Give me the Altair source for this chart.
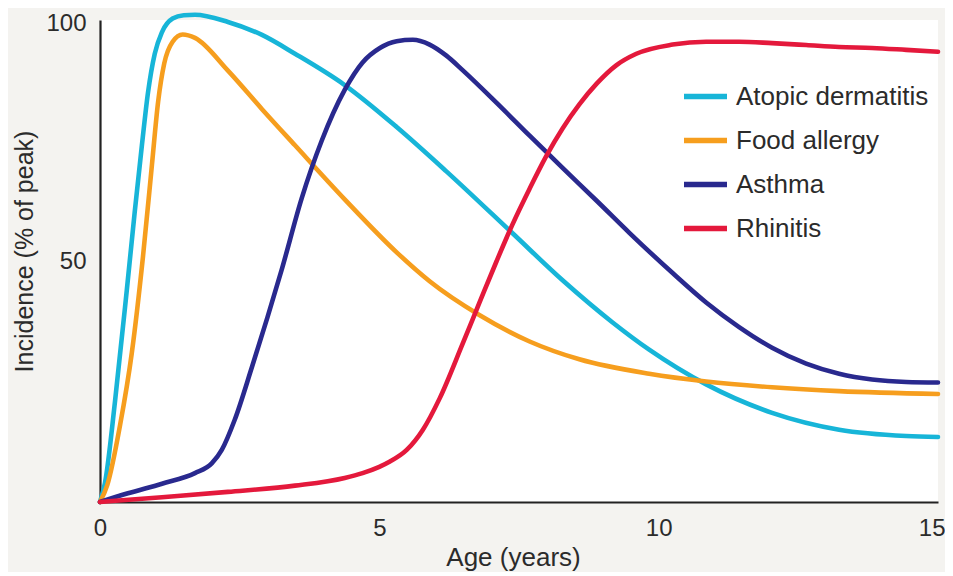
import altair as alt
import pandas as pd

series_names = ["Atopic dermatitis", "Food allergy", "Asthma", "Rhinitis"]
series_colors = ["#17b5d8", "#f69e1e", "#29298e", "#e4193c"]

ad_age = [0, 0.09, 0.27, 0.48, 0.62, 0.75, 0.86, 0.98, 1.11, 1.30, 1.50, 1.70, 2.29, 2.90,
          3.49, 4.38, 5.31, 6.20, 7.38, 8.28, 9.17, 9.83, 10.85, 12.03, 13.23, 14.43, 15.0]
ad_val = [0, 4.0, 21.0, 44.0, 60.0, 74.0, 85.0, 93.0, 97.5, 100.3, 101.0, 101.1, 99.6, 96.9,
          93.0, 86.5, 77.8, 68.6, 55.8, 46.0, 37.3, 31.6, 24.4, 18.5, 15.0, 13.7, 13.5]

fa_age = [0, 0.13, 0.36, 0.57, 0.77, 0.93, 1.04, 1.15, 1.30, 1.48, 1.70, 2.29, 2.90, 3.49,
          4.38, 5.31, 5.90, 6.79, 7.69, 8.58, 9.83, 10.85, 12.03, 13.23, 15.0]
fa_val = [0, 3.5, 16.0, 31.0, 51.0, 70.0, 83.0, 91.0, 95.5, 97.0, 96.3, 89.5, 81.5, 74.0,
          62.8, 51.8, 45.8, 38.8, 33.3, 29.6, 26.6, 25.0, 23.8, 23.0, 22.4]

as_age = [0, 0.50, 1.11, 1.70, 2.00, 2.18, 2.41, 2.72, 3.00, 3.25, 3.61, 3.97, 4.38, 4.70,
          5.01, 5.31, 5.60, 5.90, 6.20, 6.49, 7.10, 7.69, 8.28, 8.89, 9.48, 10.25, 10.85,
          11.44, 12.03, 12.64, 13.23, 13.82, 14.43, 15.0]
as_val = [0, 1.8, 3.8, 6.0, 8.0, 10.8, 17.0, 28.0, 38.4, 48.1, 63.0, 75.0, 85.5, 91.2,
          94.2, 95.6, 95.9, 94.9, 92.6, 89.6, 82.8, 76.0, 69.3, 62.5, 55.8, 47.5, 41.4,
          36.3, 32.0, 28.7, 26.6, 25.4, 24.9, 24.8]

rh_age = [0, 1.11, 2.29, 3.49, 4.38, 4.70, 5.00, 5.19, 5.49, 5.78, 6.08, 6.49, 6.79, 7.10,
          7.38, 7.69, 7.99, 8.28, 8.58, 8.89, 9.24, 9.60, 10.25, 10.85, 11.44, 12.03, 12.64,
          13.23, 13.82, 14.43, 15.0]
rh_val = [0, 1.0, 2.1, 3.4, 5.0, 6.0, 7.3, 8.4, 10.8, 15.0, 21.5, 32.8, 41.3, 50.0,
          57.5, 65.0, 71.8, 77.5, 82.5, 86.8, 90.6, 93.0, 94.9, 95.5, 95.5, 95.2, 94.8,
          94.4, 94.2, 93.8, 93.4]

x_ticks = [0, 5, 10, 15]
y_ticks = [50, 100]

rows = []
for i, (name, ages, vals) in enumerate(zip(series_names,
                                           [ad_age, fa_age, as_age, rh_age],
                                           [ad_val, fa_val, as_val, rh_val])):
    for j, (a, v) in enumerate(zip(ages, vals)):
        rows.append({"Disease": name, "Age": a, "Incidence": v, "order": i, "idx": j})
df = pd.DataFrame(rows)

FONT = "Liberation Sans"
TXT = "#2b2b2b"

chart = alt.Chart(df).mark_line(
    strokeWidth=4.6, interpolate="monotone", clip=False, strokeCap="round"
).encode(
    x=alt.X("Age:Q",
            scale=alt.Scale(domain=[0, 15], nice=False, zero=True),
            axis=alt.Axis(values=x_ticks, title="Age (years)", grid=False, ticks=False,
                          domainColor="#222222", domainWidth=2.2,
                          labelFontSize=24, labelColor=TXT, labelFont=FONT,
                          labelPadding=14, labelFlush=False,
                          labelAlign={"condition": {"test": "datum.value === 15", "value": "right"},
                                      "value": "center"},
                          labelOffset={"condition": {"test": "datum.value === 15", "value": 7},
                                       "value": 0},
                          titleFontSize=26, titleFont=FONT, titleColor=TXT,
                          titleFontWeight="normal", titleX=413, titleY=42,
                          titleBaseline="top")),
    y=alt.Y("Incidence:Q",
            scale=alt.Scale(domain=[0, 100], nice=False),
            axis=alt.Axis(values=y_ticks, title="Incidence (% of peak)", grid=False,
                          ticks=False, domainColor="#222222", domainWidth=2.2,
                          labelFontSize=24, labelColor=TXT, labelFont=FONT,
                          labelPadding=14, labelFlush=False,
                          labelOffset={"condition": {"test": "datum.value === 100", "value": 3},
                                       "value": 0},
                          titleFontSize=25, titleFont=FONT, titleColor=TXT,
                          titleFontWeight="normal", titleX=-63, titleY=231,
                          titleBaseline="bottom")),
    color=alt.Color("Disease:N",
                    scale=alt.Scale(domain=series_names, range=series_colors),
                    sort=series_names,
                    legend=alt.Legend(title=None, orient="none", legendX=581, legendY=52,
                                      symbolType="stroke", symbolSize=1849,
                                      symbolStrokeWidth=5.5, labelFontSize=26,
                                      labelFont=FONT, labelColor=TXT, labelOffset=6,
                                      labelLimit=0, rowPadding=6, padding=0)),
    detail="order:O",
    order="idx:Q",
).properties(
    width=838,
    height=482,
    autosize=alt.AutoSizeParams(type="none"),
    padding={"left": 92, "top": 12, "right": 7, "bottom": 70},
    background="#f4f3f0",
).configure_view(
    fill="white", stroke=None
)

chart.save("out.html", embed_options={"renderer": "svg", "actions": False})
